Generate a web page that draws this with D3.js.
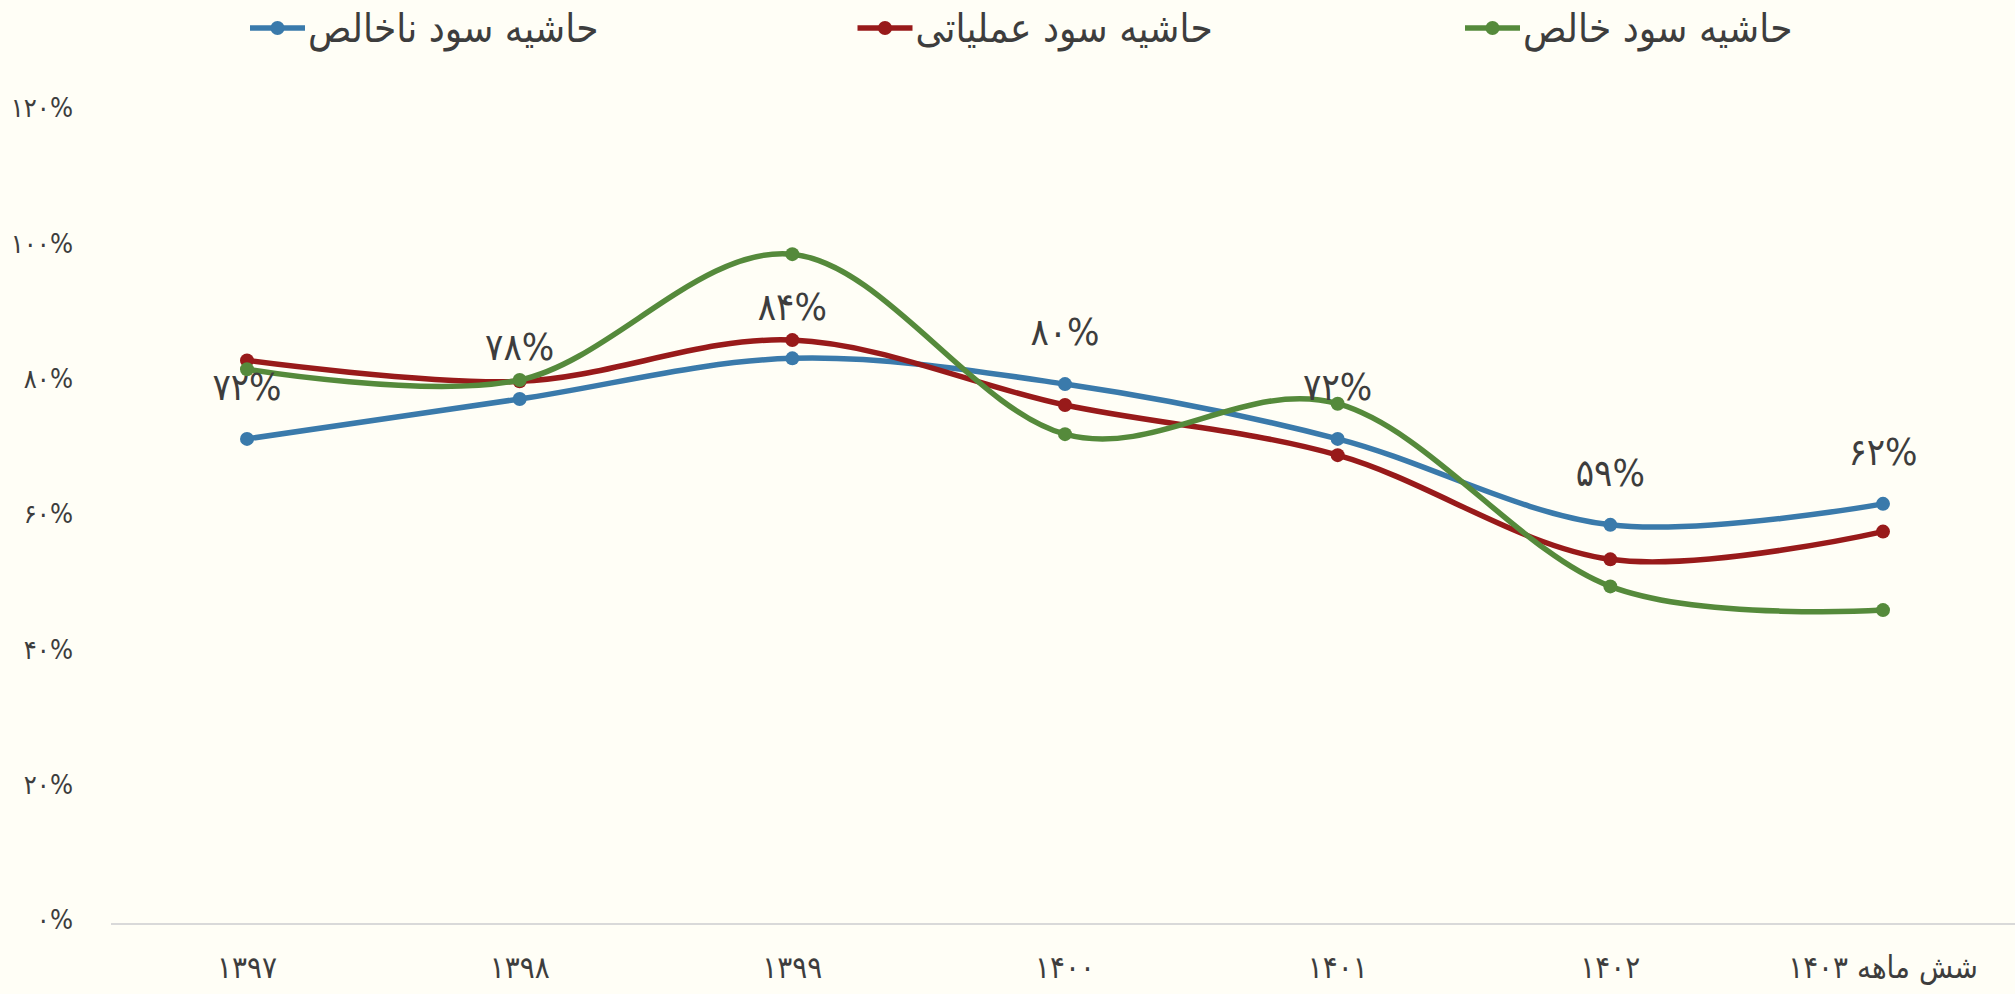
<!DOCTYPE html>
<html>
<head>
<meta charset="utf-8">
<script src="https://cdn.jsdelivr.net/npm/d3@7"></script>
<style>
  html, body { margin: 0; padding: 0; background: #fffef6; }
  svg { display: block; }
  text { font-family: "DejaVu Sans Condensed", "DejaVu Sans", sans-serif; fill: #3d3d3d; }
</style>
</head>
<body>
<script>
// chart data
const years = ["1397", "1398", "1399", "1400", "1401", "1402", "شش ماهه 1403"];
const grossMargin = [0.711, 0.770, 0.830, 0.792, 0.711, 0.584, 0.615];
const operatingMargin = [0.827, 0.796, 0.857, 0.761, 0.687, 0.533, 0.574];
const netMargin = [0.814, 0.798, 0.984, 0.718, 0.763, 0.493, 0.458];
const grossLabels = [72, 78, 84, 80, 72, 59, 62];
const yTicks = [0, 0.2, 0.4, 0.6, 0.8, 1.0, 1.2];

const seriesNames = ["حاشیه سود ناخالص", "حاشیه سود عملیاتی", "حاشیه سود خالص"];
const seriesColors = ["#3a7aab", "#981a1a", "#558a3b"];
const seriesValues = [grossMargin, operatingMargin, netMargin];

const width = 2015, height = 994;

// persian digits
const fa = s => String(s).replace(/\d/g, d => "۰۱۲۳۴۵۶۷۸۹"[d]);
const pct = v => fa(Math.round(v * 100)) + "%";

const svg = d3.select("body").append("svg")
    .attr("width", width)
    .attr("height", height);

const x = d3.scalePoint().domain(years).range([247, 1883]);
const y = d3.scaleLinear().domain([0, 1.2]).range([920, 108]);

// baseline
svg.append("line")
    .attr("x1", 111).attr("x2", 2015)
    .attr("y1", y(0) + 4).attr("y2", y(0) + 4)
    .attr("stroke", "#d9d9d9")
    .attr("stroke-width", 2);

// y axis labels
svg.append("g").selectAll("text")
    .data(yTicks)
    .enter()
    .append("text")
    .attr("x", 73)
    .attr("y", d => y(d))
    .attr("dy", "0.35em")
    .attr("text-anchor", "end")
    .style("font-size", "27px")
    .text(d => pct(d));

// x axis labels
svg.append("g").selectAll("text")
    .data(years)
    .enter()
    .append("text")
    .attr("x", d => x(d))
    .attr("y", 967)
    .attr("dy", "0.35em")
    .attr("text-anchor", "middle")
    .attr("direction", "rtl")
    .style("font-size", "31px")
    .text(d => fa(d));

// lines
const line = d3.line()
    .x((d, i) => x(years[i]))
    .y(d => y(d))
    .curve(d3.curveCatmullRom.alpha(0));

const series = svg.append("g").selectAll("g")
    .data(seriesValues)
    .enter()
    .append("g");

series.append("path")
    .attr("d", d => line(d))
    .attr("fill", "none")
    .attr("stroke", (d, i) => seriesColors[i])
    .attr("stroke-width", 5.5)
    .attr("stroke-linecap", "round");

series.each(function(vals, si) {
    d3.select(this).selectAll("circle")
        .data(vals)
        .enter()
        .append("circle")
        .attr("cx", (d, i) => x(years[i]))
        .attr("cy", d => y(d))
        .attr("r", 7)
        .attr("fill", seriesColors[si]);
});

// data labels for gross margin
svg.append("g").selectAll("text")
    .data(grossMargin)
    .enter()
    .append("text")
    .attr("x", (d, i) => x(years[i]))
    .attr("y", d => y(d) - 52)
    .attr("dy", "0.35em")
    .attr("text-anchor", "middle")
    .style("font-size", "38px")
    .text((d, i) => fa(grossLabels[i]) + "%");

// legend
const legendX = d3.scalePoint().domain(seriesNames).range([250, 1465]);
const legend = svg.append("g").selectAll("g")
    .data(seriesNames)
    .enter()
    .append("g")
    .attr("transform", d => `translate(${legendX(d)},28)`);

legend.append("line")
    .attr("x1", 0).attr("x2", 55)
    .attr("stroke", (d, i) => seriesColors[i])
    .attr("stroke-width", 5.5);

legend.append("circle")
    .attr("cx", 27.5)
    .attr("r", 7)
    .attr("fill", (d, i) => seriesColors[i]);

legend.append("text")
    .attr("x", 58)
    .attr("dy", "0.35em")
    .style("font-size", "40px")
    .text(d => d);
</script>
</body>
</html>
